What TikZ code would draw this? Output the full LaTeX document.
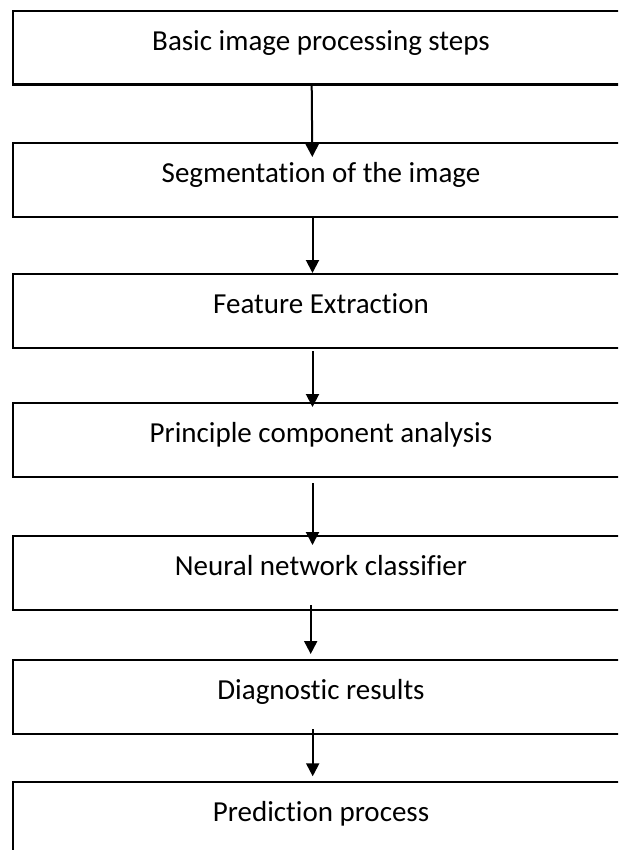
\documentclass[tikz,border=0pt]{standalone}
\usepackage{fontspec}
\setmainfont{Carlito}[Ligatures=NoCommon,RawFeature={-liga;-clig;-dlig}]
\usetikzlibrary{arrows.meta,calc}
\begin{document}
\begin{tikzpicture}[x=1pt,y=-1pt,
  boxst/.style={draw=black,line width=2.3pt,rectangle,minimum width=616.6pt,minimum height=73.7pt,inner sep=0pt,outer sep=0pt},
  lbl/.style={anchor=base,inner sep=0pt,font=\fontsize{29}{34}\selectfont},
  arr/.style={draw=black,line width=2pt,-{Triangle[width=13pt,length=13pt]}}]
\useasboundingbox (0,0) rectangle (618,850);
\clip (0,0) rectangle (618,850);
\fill[white] (0,0) rectangle (618,850);
% boxes (centre x = 321, tops as measured)
\node[boxst] (b1) at (321,47.55) {};
\node[boxst] (b2) at (321,180.15) {};
\node[boxst] (b3) at (321,311.15) {};
\node[boxst] (b4) at (321,439.85) {};
\node[boxst] (b5) at (321,572.85) {};
\node[boxst] (b6) at (321,696.85) {};
\node[boxst] (b7) at (321,819.15) {};
% texts
\node[lbl] (t1) at ($(b1.north)+(0,39.5)$) {Basic image processing steps};
\node[lbl] (t2) at ($(b2.north)+(0,39.5)$) {Segmentation of the image};
\node[lbl] (t3) at ($(b3.north)+(0,39.5)$) {Feature Extraction};
\node[lbl] (t4) at ($(b4.north)+(0,39.5)$) {Principle component analysis};
\node[lbl] (t5) at ($(b5.north)+(0,39.5)$) {Neural network classifier};
\node[lbl] (t6) at ($(b6.north)+(0,39.5)$) {Diagnostic results};
\node[lbl] (t7) at ($(b7.north)+(0,39.5)$) {Prediction process};
% arrows
\draw[arr] ($(b1.south)+(-9.3,0.7)$) -- ($(b2.north)+(-8.7,13.7)$);
\draw[arr] ($(b2.south)+(-8.5,0.3)$) -- ($(b3.north)+(-8.5,-1.3)$);
\draw[arr] ($(b3.south)+(-8.5,3)$) -- ($(b4.north)+(-8.5,4)$);
\draw[arr] ($(b4.south)+(-8.5,6.3)$) -- ($(b5.north)+(-8.5,9)$);
\draw[arr] ($(b5.south)+(-10.3,-4.7)$) -- ($(b6.north)+(-10.3,-6)$);
\draw[arr] ($(b6.south)+(-8.3,-4.7)$) -- ($(b7.north)+(-8.3,-6)$);
\end{tikzpicture}
\end{document}
